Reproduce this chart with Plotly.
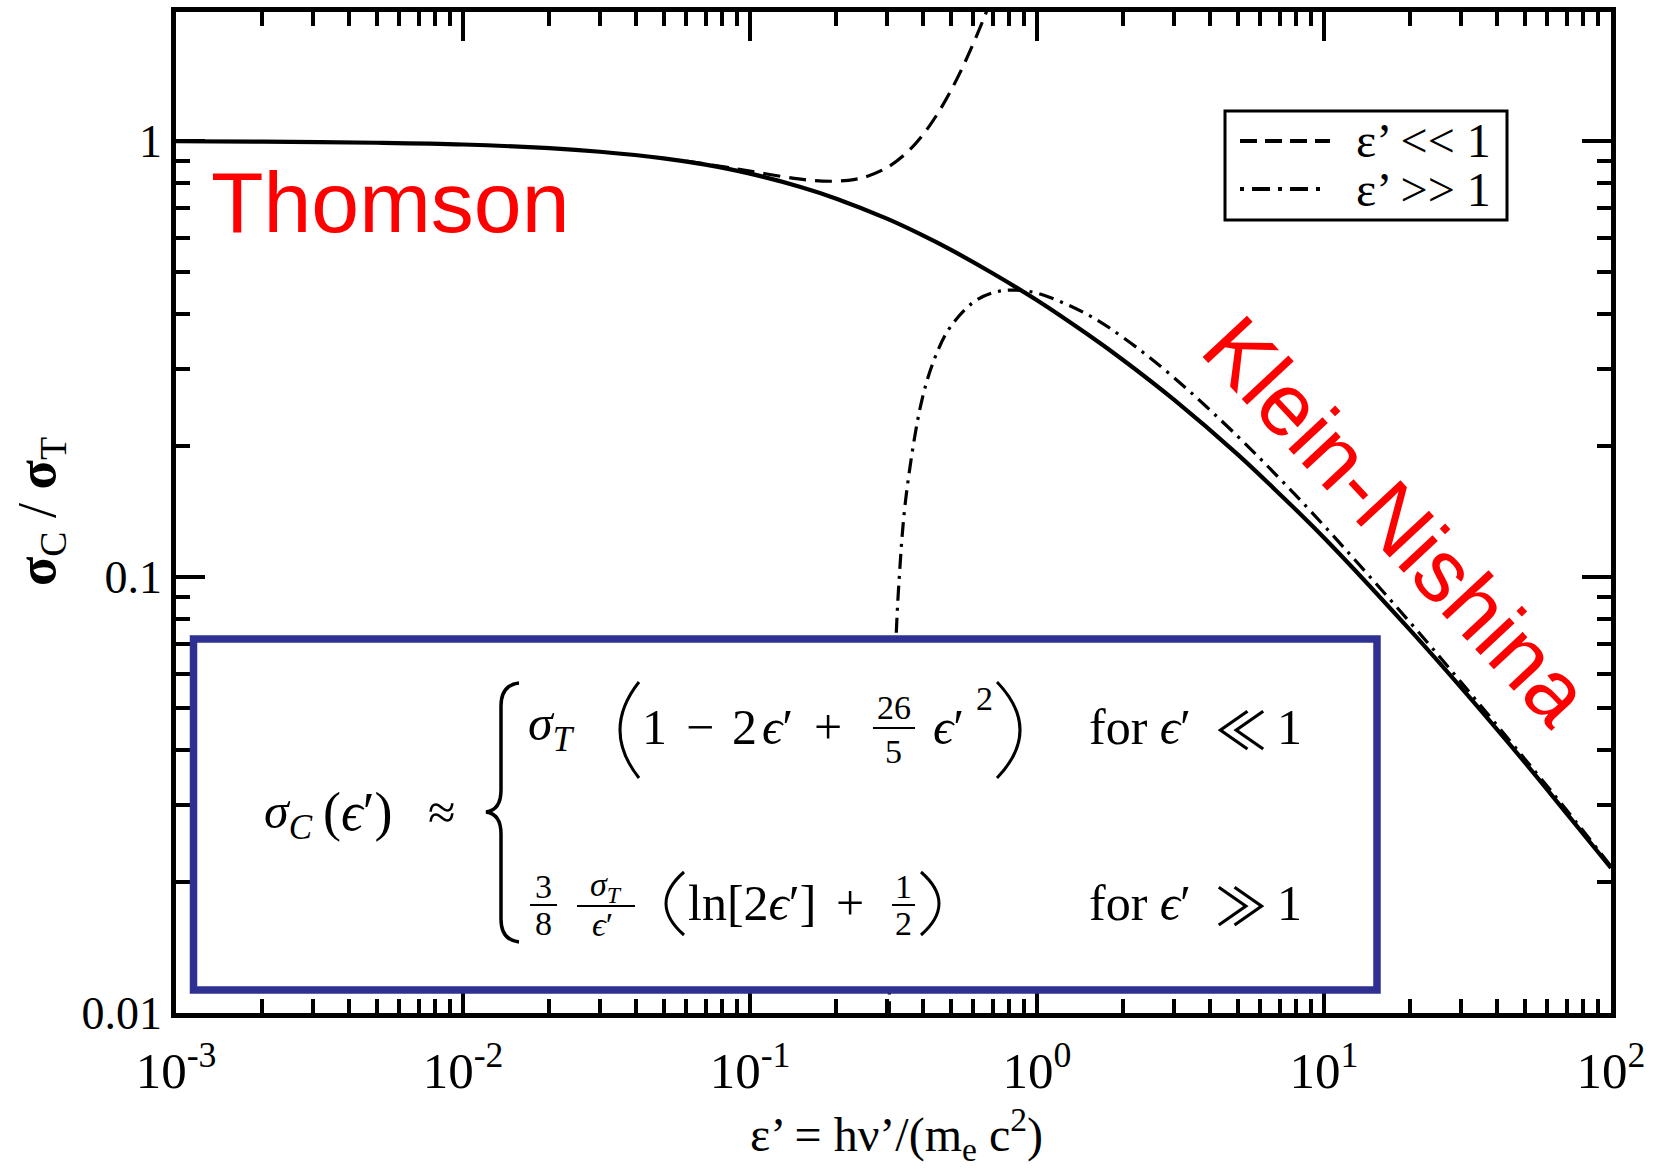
import numpy as np
import plotly.graph_objects as go

# ---- data -------------------------------------------------------------
# Klein-Nishina total cross section sigma_C / sigma_T
eps_kn = [0.001, 0.002, 0.005, 0.01, 0.02, 0.03, 0.05, 0.07, 0.1, 0.15, 0.2,
          0.3, 0.4, 0.5, 0.7, 1.0, 1.5, 2.0, 3.0, 5.0, 7.0, 10.0, 20.0, 30.0,
          50.0, 70.0, 100.0]
sig_kn = [0.998, 0.996, 0.990, 0.981, 0.962, 0.944, 0.912, 0.882, 0.841,
          0.784, 0.737, 0.663, 0.607, 0.563, 0.497, 0.431, 0.360, 0.314,
          0.255, 0.191, 0.155, 0.123, 0.0754, 0.0558, 0.0376, 0.0287, 0.0215]

# low-energy expansion (eps' << 1)
eps_low = [0.06, 0.08, 0.1, 0.13, 0.16, 0.19, 0.22, 0.25, 0.3, 0.35, 0.4,
           0.45, 0.5, 0.55, 0.6, 0.65, 0.7]
sig_low = [0.899, 0.873, 0.852, 0.828, 0.813, 0.808, 0.812, 0.825, 0.868,
           0.937, 1.032, 1.153, 1.300, 1.473, 1.672, 1.897, 2.148]

# high-energy expansion (eps' >> 1)
eps_high = [0.305, 0.307, 0.31, 0.315, 0.32, 0.33, 0.35, 0.4, 0.45, 0.5, 0.6,
            0.7, 0.82, 1.0, 1.5, 2.0, 3.0, 5.0, 7.0, 10.0, 20.0, 30.0, 50.0,
            70.0, 100.0]
sig_high = [0.0070, 0.0150, 0.0266, 0.0452, 0.0629, 0.0960, 0.1536, 0.2596,
            0.3289, 0.375, 0.4265, 0.4481, 0.4549, 0.4474, 0.3997, 0.3537,
            0.2865, 0.2102, 0.1682, 0.1311, 0.0785, 0.0574, 0.0383, 0.0292,
            0.0217]

x_tick_vals = [1e-3, 1e-2, 1e-1, 1e0, 1e1, 1e2]
x_tick_text = ["10<sup>-3</sup>", "10<sup>-2</sup>", "10<sup>-1</sup>",
               "10<sup>0</sup>", "10<sup>1</sup>", "10<sup>2</sup>"]
y_tick_vals = [0.01, 0.1, 1.0]
y_tick_text = ["0.01", "0.1", "1"]

legend_labels = ["\u03b5\u2019 << 1", "\u03b5\u2019 >> 1"]

# ---- page geometry ----------------------------------------------------
W, H = 1658, 1169
L, R, T, B = 176, 1611, 12, 1013          # plot-area edges in pixels
Y_TOP = 0.2955                            # log10 of the upper y limit
SERIF = "Liberation Serif, DejaVu Serif, serif"
SANS = "Liberation Sans, Arial, sans-serif"
CJK = "Noto Sans CJK JP, DejaVu Serif, serif"
NAVY = "#2E3192"


def px(x):
    return (x - L) / (R - L)


def py(y):
    return (B - y) / (B - T)


x_minor = [m * 10.0 ** e for e in range(-3, 2) for m in range(2, 10)]
y_minor = [m * 10.0 ** e for e in (-2, -1) for m in range(2, 10)]

fig = go.Figure()

DASH = "17px,9px"
DASHDOT = "15px,7px,3px,7px"

fig.add_trace(go.Scatter(x=eps_low, y=sig_low, mode="lines",
                         line=dict(color="black", width=3.2, dash=DASH,
                                   shape="spline"),
                         showlegend=False, hoverinfo="skip"))
fig.add_trace(go.Scatter(x=eps_high, y=sig_high, mode="lines",
                         line=dict(color="black", width=3.2, dash=DASHDOT,
                                   shape="spline"),
                         showlegend=False, hoverinfo="skip"))
fig.add_trace(go.Scatter(x=eps_kn, y=sig_kn, mode="lines",
                         line=dict(color="black", width=4.2, shape="spline"),
                         showlegend=False, hoverinfo="skip"))

axis_common = dict(
    type="log", showline=True, linewidth=4.5, linecolor="black",
    mirror="allticks", ticks="inside", ticklen=29, tickwidth=3.5,
    tickcolor="black", showgrid=False, zeroline=False, tickmode="array",
    automargin=False,
)

fig.update_xaxes(
    **axis_common, range=[-3, 2], tickvals=x_tick_vals, ticktext=x_tick_text,
    tickfont=dict(family=SERIF, size=51, color="black"),
    ticklabelstandoff=9,
    minor=dict(tickmode="array", tickvals=x_minor, ticks="inside",
               ticklen=14, tickwidth=3.5, tickcolor="black", showgrid=False),
)
fig.update_yaxes(
    **axis_common, range=[-2, Y_TOP], tickvals=y_tick_vals,
    ticktext=y_tick_text,
    tickfont=dict(family=SERIF, size=46, color="black"),
    minor=dict(tickmode="array", tickvals=y_minor, ticks="inside",
               ticklen=14, tickwidth=3.5, tickcolor="black", showgrid=False),
)

shapes = []
annotations = []


def text(s, x, y, size, xanchor="center", yanchor="middle", family=SERIF,
         color="black", angle=0):
    annotations.append(dict(
        text=s, x=px(x), y=py(y), xref="paper", yref="paper",
        xanchor=xanchor, yanchor=yanchor, showarrow=False, textangle=angle,
        font=dict(family=family, size=size, color=color)))


def hline(x0, x1, y, width, dash=None, color="black"):
    line = dict(color=color, width=width)
    if dash:
        line["dash"] = dash
    shapes.append(dict(type="line", xref="paper", yref="paper",
                       x0=px(x0), x1=px(x1), y0=py(y), y1=py(y),
                       line=line, layer="above"))


def path(cmds, width, color="black"):
    parts = []
    for c in cmds:
        op, pts = c[0], c[1:]
        parts.append(op + " " + " ".join(f"{px(a):.5f},{py(b):.5f}"
                                         for a, b in pts))
    shapes.append(dict(type="path", xref="paper", yref="paper",
                       path=" ".join(parts), line=dict(color=color, width=width),
                       layer="above"))


# ---- axis titles -------------------------------------------------------
text("<b>\u03c3</b><sub>C</sub> / <b>\u03c3</b><sub>T</sub>", 41, 512, 54,
     angle=-90)
text("\u03b5\u2019 = h\u03bd\u2019/(m<sub>e</sub> c<sup>2</sup>)", 896, 1134,
     48)

# ---- regime labels -----------------------------------------------------
text("Thomson", 209, 202, 86, xanchor="left", family=SANS, color="#FF0000")
text("Klein-Nishina", 1397, 520, 88, family=SANS, color="#FF0000", angle=47)

# ---- legend --------------------------------------------------------------
shapes.append(dict(type="rect", xref="paper", yref="paper",
                   x0=px(1225), x1=px(1507), y0=py(111), y1=py(220),
                   line=dict(color="black", width=3), fillcolor="white",
                   layer="above"))
hline(1240, 1330, 141, 4, dash="17px,8px")
hline(1240, 1322, 189, 4, dash="4px,8px,18px,8px")
text(legend_labels[0], 1354, 141, 48, xanchor="left")
text(legend_labels[1], 1354, 189, 48, xanchor="left")

# ---- formula panel -------------------------------------------------------
shapes.append(dict(type="rect", xref="paper", yref="paper",
                   x0=px(193.5), x1=px(1377), y0=py(639), y1=py(990),
                   line=dict(color=NAVY, width=7.5), fillcolor="white",
                   layer="above"))

F = 50
FS = 34
EPS = "<i>\u03f5</i>\u2032"

# left-hand side
text("<i>\u03c3</i><sub><i>C</i></sub>", 262, 815, F, xanchor="left")
text("(" + EPS + ")", 321, 812, 54, xanchor="left")
text("\u2248", 441, 812, F)

# curly brace
path([("M", (519, 683)), ("Q", (501, 685), (501, 706)), ("L", (501, 790)),
      ("Q", (501, 810), (486, 812)), ("Q", (501, 814), (501, 834)),
      ("L", (501, 919)), ("Q", (501, 940), (519, 942))], 3.5)

# first row: sigma_T (1 - 2 eps' + 26/5 eps'^2)   for eps' << 1
Y1 = 727
text("<i>\u03c3</i><sub><i>T</i></sub>", 526, Y1, F, xanchor="left")
path([("M", (639, 682)), ("Q", (601, 730), (639, 778))], 3)
text("1", 654, Y1, F)
text("\u2212", 700, Y1, F)
text("2", 744, Y1, F)
text(EPS, 760, Y1, F, xanchor="left")
text("+", 828, Y1, F)
text("26", 894, 707, FS)
hline(873, 915, 728, 2)
text("5", 894, 751, FS)
text(EPS, 931, Y1, F, xanchor="left")
text("2", 984, 698, FS)
path([("M", (997, 682)), ("Q", (1043, 730), (997, 778))], 3)
text("for " + EPS, 1087, Y1, F, xanchor="left")
text("\u226a", 1241, Y1, 52, family=CJK)
text("1", 1289, Y1, F)

# second row: 3/8 sigma_T/eps' (ln[2 eps'] + 1/2)   for eps' >> 1
Y2 = 903
text("3", 543, 886, FS)
hline(530, 557, 905, 2)
text("8", 543, 923, FS)
text("<i>\u03c3</i><sub><i>T</i></sub>", 606, 887, FS)
hline(577, 635, 906, 2)
text(EPS, 602, 924, FS)
path([("M", (684, 872)), ("Q", (648, 903.5), (684, 935))], 3)
text("ln[2" + EPS + "]", 686, Y2, F, xanchor="left")
text("+", 850, Y2, F)
text("1", 903, 886, FS)
hline(892, 915, 905, 2)
text("2", 903, 923, FS)
path([("M", (921, 872)), ("Q", (957, 903.5), (921, 935))], 3)
text("for " + EPS, 1087, Y2, F, xanchor="left")
text("\u226b", 1241, Y2, 52, family=CJK)
text("1", 1289, Y2, F)

fig.update_layout(
    width=W, height=H,
    margin=dict(l=L, r=W - R, t=T, b=H - B, pad=0),
    paper_bgcolor="white", plot_bgcolor="white",
    showlegend=False,
    shapes=shapes, annotations=annotations,
)

fig.write_html("out.html")
